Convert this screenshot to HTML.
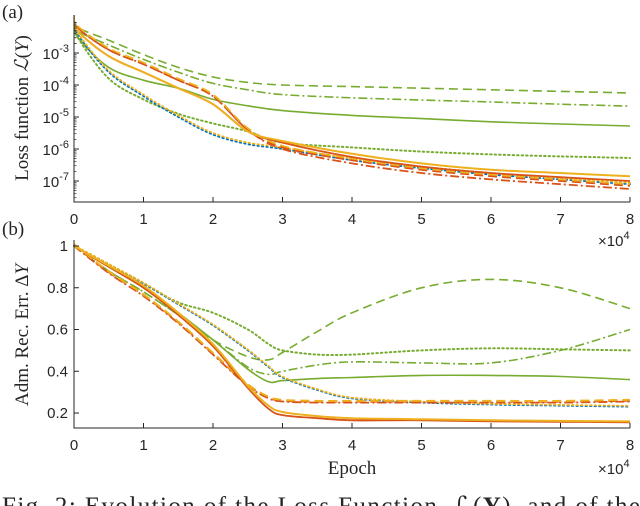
<!DOCTYPE html>
<html><head><meta charset="utf-8"><style>
html,body{margin:0;padding:0;background:#fff;overflow:hidden;}
svg{display:block;}
.tk{font-family:"Liberation Sans",sans-serif;font-size:15px;fill:#262626;}
.sf{font-family:"Liberation Serif",serif;fill:#262626;}
</style></head><body>
<svg id="chart" width="640" height="506" viewBox="0 0 640 506">
<g id="top"></g>
<g id="bot"></g>
<text class="sf" x="2" y="18" font-size="19">(a)</text>
<text class="sf" x="2" y="235" font-size="19">(b)</text>
<text class="sf" transform="translate(28,108) rotate(-90)" text-anchor="middle" font-size="19">Loss function <tspan font-style="italic">ℒ</tspan>(<tspan font-style="italic">Y</tspan>)</text>
<text class="sf" transform="translate(28,335) rotate(-90)" text-anchor="middle" font-size="19">Adm. Rec. Err. Δ<tspan font-style="italic">Y</tspan></text>
<text class="sf" x="352" y="474" text-anchor="middle" font-size="19">Epoch</text>
<text class="tk" x="598" y="246">×10<tspan dy="-7" font-size="11">4</tspan></text>
<text class="tk" x="598" y="474">×10<tspan dy="-7" font-size="11">4</tspan></text>
<text class="sf" x="2" y="514" font-size="25" textLength="638" lengthAdjust="spacing">Fig. 2: Evolution of the Loss Function, ℒ(<tspan font-weight="bold">Y</tspan>), and of the</text>
</svg>
<script>
const xTicks=[0,1,2,3,4,5,6,7,8];
const topX=[0,0.05,0.5,1,1.5,2,2.5,3,4,5,6,7,8];
const topGreenDashed=[-1.9,-2.2,-2.6,-3.05,-3.45,-3.75,-3.92,-4.0,-4.05,-4.1,-4.15,-4.2,-4.25];
const topGreenDashDot=[-1.9,-2.3,-2.75,-3.2,-3.6,-3.95,-4.15,-4.3,-4.4,-4.47,-4.53,-4.6,-4.66];
const topGreenSolid=[-2.0,-2.5,-3.45,-3.85,-4.1,-4.45,-4.65,-4.8,-4.95,-5.05,-5.15,-5.22,-5.28];
const topGreenDotted=[-2.0,-2.5,-3.8,-4.45,-4.9,-5.2,-5.45,-5.8,-5.95,-6.08,-6.17,-6.23,-6.28];
const topOrangeSolid=[-1.8,-2.3,-3.1,-3.6,-4.1,-4.6,-5.45,-5.75,-6.15,-6.45,-6.65,-6.75,-6.85];
const topRedSolid=[-1.8,-2.3,-3.1,-3.6,-4.1,-4.6,-5.45,-5.8,-6.25,-6.55,-6.75,-6.88,-7.0];
const topDashed=[-1.8,-2.2,-2.9,-3.35,-3.85,-4.35,-5.4,-5.95,-6.35,-6.65,-6.85,-7.0,-7.15];
const topDotted=[-1.9,-2.4,-3.6,-4.35,-5.0,-5.55,-5.85,-6.0,-6.35,-6.6,-6.8,-6.95,-7.1];
const topRedDashDot=[-1.8,-2.2,-2.9,-3.35,-3.85,-4.35,-5.4,-6.0,-6.45,-6.75,-6.95,-7.1,-7.25];
const topYTicks=[-3,-4,-5,-6,-7];

const botX=[0,0.5,1,1.5,2,2.5,2.8,3,3.5,4,5,6,7,8];
const botGreenDashed=[1,.88,.78,.67,.55,.47,.455,.49,.59,.68,.80,.84,.80,.70];
const botGreenDashDot=[1,.88,.78,.67,.55,.42,.385,.40,.43,.445,.44,.44,.50,.60];
const botGreenSolid=[1,.90,.80,.68,.55,.41,.35,.355,.365,.37,.38,.38,.375,.36];
const botGreenDotted=[1,.91,.82,.73,.68,.60,.53,.50,.48,.48,.50,.51,.505,.50];
const botRedSolid=[1,.90,.80,.67,.52,.32,.22,.19,.175,.165,.165,.16,.158,.155];
const botYellowSolid=[1,.905,.81,.68,.53,.33,.235,.205,.185,.175,.17,.165,.162,.16];
const botDashed=[1,.87,.76,.63,.48,.33,.27,.255,.25,.25,.25,.25,.25,.255];
const botDotted=[1,.91,.82,.72,.62,.50,.42,.37,.31,.27,.25,.24,.235,.23];
const botYTicks=[1,0.8,0.6,0.4,0.2];

const C={b:'#0072BD',r:'#D95319',y:'#EDB120',g:'#77AC30'};
const D={solid:'',dash:'9,5',dot:'1.5,3',dashdot:'9,3,2,3'};
const NS='http://www.w3.org/2000/svg';
const x0=74,x1=630;
const sx=v=>x0+(x1-x0)*v/8;
const topSy=v=>53+(-3-v)*32;
const botSy=v=>246+(1-v)*(413-246)/0.8;

function mk(tag,attrs,parent){const e=document.createElementNS(NS,tag);for(const k in attrs)e.setAttribute(k,attrs[k]);parent.appendChild(e);return e;}
function smooth(pts){let d='M'+pts[0][0].toFixed(1)+','+pts[0][1].toFixed(1);
 for(let i=0;i<pts.length-1;i++){const p0=pts[Math.max(0,i-1)],p1=pts[i],p2=pts[i+1],p3=pts[Math.min(pts.length-1,i+2)];
  const c1=[p1[0]+(p2[0]-p0[0])/6,p1[1]+(p2[1]-p0[1])/6],c2=[p2[0]-(p3[0]-p1[0])/6,p2[1]-(p3[1]-p1[1])/6];
  d+=' C'+c1.map(n=>n.toFixed(1))+' '+c2.map(n=>n.toFixed(1))+' '+p2[0].toFixed(1)+','+p2[1].toFixed(1);}
 return d;}
function line(g,xs,ys,sy,color,dash,name,w){const p=mk('path',{d:smooth(xs.map((x,i)=>[sx(x),sy(ys[i])])),fill:'none',stroke:color,'stroke-width':w||1.6,'stroke-dasharray':dash,'stroke-linecap':dash===D.dot?'round':'butt'},g);
 
 }

function axes(g,yTop,yBot,pre){
 const ax=mk('path',{d:`M${x0},${yTop} V${yBot} H${x1}`,fill:'none',stroke:'#262626','stroke-width':1},g);
 
 
 xTicks.forEach(t=>{const tk=mk('line',{x1:sx(t),x2:sx(t),y1:yBot,y2:yBot-5,stroke:'#262626'},g);
  
  
  const tx=mk('text',{x:sx(t),y:yBot+22,'text-anchor':'middle',class:'tk'},g);tx.textContent=t;
  
  });
}
const gt=document.getElementById('top');
const clipT=mk('clipPath',{id:'ct'},gt);mk('rect',{x:x0,y:15,width:x1-x0+2,height:188},clipT);
const lt=mk('g',{'clip-path':'url(#ct)'},gt);
line(lt,topX,topGreenDashed,topSy,C.g,D.dash,'green-dashed-loss');
line(lt,topX,topGreenDashDot,topSy,C.g,D.dashdot,'green-dashdot-loss');
line(lt,topX,topGreenSolid,topSy,C.g,D.solid,'green-solid-loss');
line(lt,topX,topGreenDotted,topSy,C.g,D.dot,'green-dotted-loss',2);
line(lt,topX,topDotted,topSy,C.b,D.dot,'blue-dotted-loss',1.8);
line(lt,topX,topDotted.map(v=>v+0.05),topSy,C.y,D.dot,'yellow-dotted-loss',1.8);
line(lt,topX,topRedDashDot,topSy,C.r,D.dashdot,'red-dashdot-loss',1.8);
line(lt,topX,topDashed,topSy,C.r,D.dash,'red-dashed-loss',1.8);
line(lt,topX,topDashed.map(v=>v+0.05),topSy,C.y,D.dash,'yellow-dashed-loss',1.8);
line(lt,topX,topRedSolid,topSy,C.r,D.solid,'red-solid-loss',1.8);
line(lt,topX,topOrangeSolid,topSy,C.y,D.solid,'yellow-solid-loss',2);
axes(gt,15,202,'top');
topYTicks.forEach(t=>{const y=topSy(t);
 const tk=mk('line',{x1:x0,x2:x0+5,y1:y,y2:y,stroke:'#262626'},gt);
 
 
 for(let m=2;m<=9;m++){const ym=topSy(t+Math.log10(m));if(ym>15&&ym<202){mk('line',{x1:x0,x2:x0+2.5,y1:ym,y2:ym,stroke:'#262626','stroke-width':0.7},gt);}}
 const tx=mk('text',{x:x0-5,y:y+6,'text-anchor':'end',class:'tk'},gt);
 tx.innerHTML='10<tspan dy="-7" font-size="11">'+t+'</tspan>';
 
 });
for(let m=2;m<=9;m++){const ym=topSy(-8+Math.log10(m));if(ym<202)mk('line',{x1:x0,x2:x0+2.5,y1:ym,y2:ym,stroke:'#262626','stroke-width':0.7},gt);}
for(let m=2;m<=9;m++){const ym=topSy(-3+Math.log10(m));if(ym>15)mk('line',{x1:x0,x2:x0+2.5,y1:ym,y2:ym,stroke:'#262626','stroke-width':0.7},gt);}

const gb=document.getElementById('bot');
line(gb,botX,botGreenDashed,botSy,C.g,D.dash,'green-dashed-error');
line(gb,botX,botGreenDashDot,botSy,C.g,D.dashdot,'green-dashdot-error');
line(gb,botX,botGreenSolid,botSy,C.g,D.solid,'green-solid-error');
line(gb,botX,botGreenDotted,botSy,C.g,D.dot,'green-dotted-error',2);
line(gb,botX,botDotted,botSy,C.b,D.dot,'blue-dotted-error',1.8);
line(gb,botX,botDotted.map(v=>v+0.004),botSy,C.y,D.dot,'yellow-dotted-error',1.8);
line(gb,botX,botDashed,botSy,C.r,D.dashdot,'red-dashdot-error',1.8);
line(gb,botX,botDashed.map(v=>v+0.004),botSy,C.r,D.dash,'red-dashed-error',1.8);
line(gb,botX,botDashed.map(v=>v+0.008),botSy,C.y,D.dash,'yellow-dashed-error',2);
line(gb,botX,botRedSolid,botSy,C.r,D.solid,'red-solid-error',1.8);
line(gb,botX,botYellowSolid,botSy,C.y,D.solid,'yellow-solid-error',2);
axes(gb,240,428,'bottom');
botYTicks.forEach(t=>{const y=botSy(t);
 const tk=mk('line',{x1:x0,x2:x0+5,y1:y,y2:y,stroke:'#262626'},gb);
 
 
 const tx=mk('text',{x:x0-6,y:y+5,'text-anchor':'end',class:'tk'},gb);tx.textContent=String(t);
 
 });
</script>
</body></html>
